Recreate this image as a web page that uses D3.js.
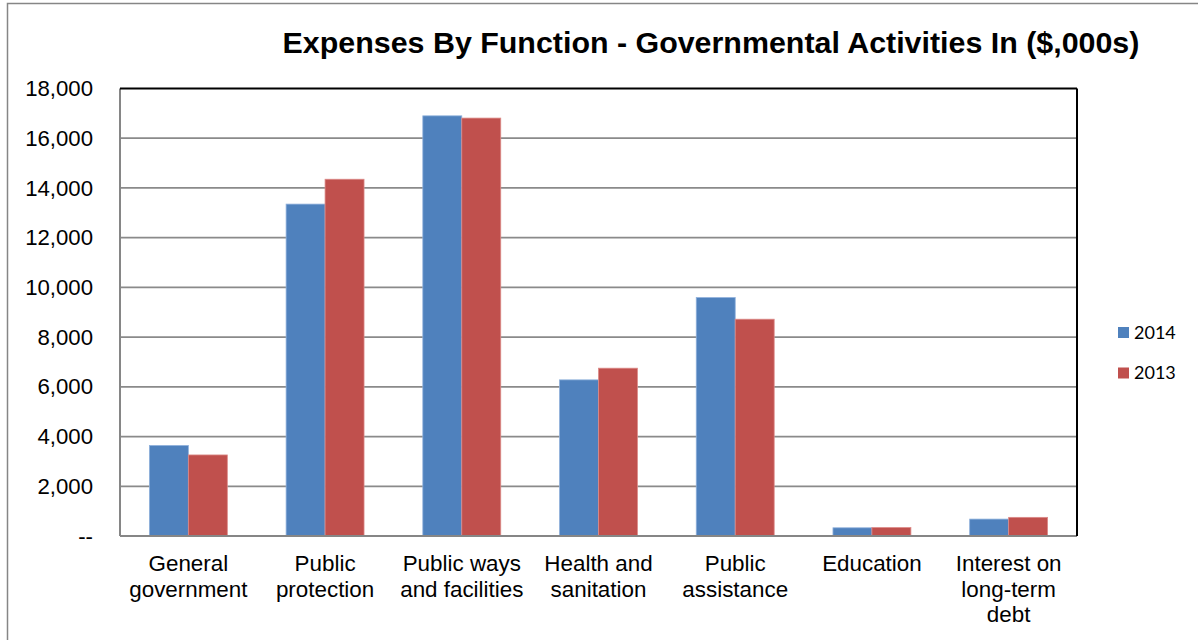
<!DOCTYPE html>
<html>
<head>
<meta charset="utf-8">
<script src="https://d3js.org/d3.v7.min.js"></script>
<style>
  body { margin: 0; background: #fff; }
  svg { display: block; }
</style>
</head>
<body>
<div id="svg_area"></div>
<script>
// values in $,000s
var categories = [
    ["General", "government"],
    ["Public", "protection"],
    ["Public ways", "and facilities"],
    ["Health and", "sanitation"],
    ["Public", "assistance"],
    ["Education"],
    ["Interest on", "long-term", "debt"]
];
var seriesNames = ["2014", "2013"];
var values2014 = [3640, 13350, 16900, 6280, 9590, 330, 680];
var values2013 = [3260, 14350, 16810, 6750, 8720, 340, 750];
var yTicks = [0, 2000, 4000, 6000, 8000, 10000, 12000, 14000, 16000, 18000];
var colors = ["#4f81bd", "#c0504d"];

var svg = d3.select("#svg_area").append("svg").attr("width", 1198).attr("height", 640),
    margin = {top: 88.5, right: 121, bottom: 104, left: 120},
    width = 1198 - margin.left - margin.right,
    height = 640 - margin.top - margin.bottom,
    g = svg.append("g").attr("transform", "translate(" + margin.left + "," + margin.top + ")");

// outer chart border
svg.append("rect")
    .attr("x", 7.5).attr("y", 3.5)
    .attr("width", 1300).attr("height", 800)
    .attr("fill", "none")
    .attr("stroke", "#868686")
    .attr("stroke-width", 1.5);

svg.append("text")
    .attr("x", 711)
    .attr("y", 53)
    .attr("text-anchor", "middle")
    .style("font-family", "'Liberation Sans', Arial, sans-serif")
    .style("font-weight", "bold")
    .style("font-size", "30.4px")
    .text("Expenses By Function - Governmental Activities In ($,000s)");

var x0 = d3.scaleBand()
    .domain(d3.range(categories.length))
    .range([0, width])
    .paddingInner(0.43)
    .paddingOuter(0.215);

var x1 = d3.scaleBand()
    .domain(seriesNames)
    .range([0, x0.bandwidth()]);

var y = d3.scaleLinear().domain([0, 18000]).range([height, 0]);

// gridlines
g.append("g")
    .selectAll("line")
    .data(yTicks.slice(1, -1))
    .enter().append("line")
    .attr("x1", 0).attr("x2", width)
    .attr("y1", function(d) { return y(d); })
    .attr("y2", function(d) { return y(d); })
    .attr("stroke", "#8a8a8a")
    .attr("stroke-width", 1.8);

// y axis labels
var yAxis = g.append("g")
    .call(d3.axisLeft(y)
        .tickValues(yTicks)
        .tickSize(0)
        .tickPadding(27)
        .tickFormat(function(d) { return d === 0 ? "--" : d3.format(",")(d); }));
yAxis.select(".domain").remove();
yAxis.selectAll("text")
    .attr("fill", "#000")
    .style("font-family", "'Liberation Sans', Arial, sans-serif")
    .style("font-size", "22.2px");

var data = categories.map(function(c, i) {
    return {i: i, vals: [values2014[i], values2013[i]]};
});

var groups = g.selectAll(".grp")
    .data(data)
    .enter().append("g")
    .attr("class", "grp")
    .attr("transform", function(d) { return "translate(" + x0(d.i) + ",0)"; });

groups.selectAll("rect")
    .data(function(d) { return d.vals.map(function(v, k) { return {key: seriesNames[k], v: v, k: k}; }); })
    .enter().append("rect")
    .attr("x", function(d) { return x1(d.key); })
    .attr("width", x1.bandwidth())
    .attr("y", function(d) { return y(d.v); })
    .attr("height", function(d) { return height - y(d.v); })
    .attr("fill", function(d) { return colors[d.k]; })
    .attr("stroke", function(d) { return d.k === 0 ? "#8fb0db" : "#dc8a88"; })
    .attr("stroke-width", 0.8);

// plot frame: gray left/bottom, black top/right
g.append("line").attr("x1", 0).attr("x2", 0).attr("y1", 0).attr("y2", height)
    .attr("stroke", "#868686").attr("stroke-width", 2);
g.append("line").attr("x1", 0).attr("x2", width).attr("y1", height).attr("y2", height)
    .attr("stroke", "#868686").attr("stroke-width", 2);
g.append("line").attr("x1", 0).attr("x2", width).attr("y1", 0).attr("y2", 0)
    .attr("stroke", "#000").attr("stroke-width", 2);
g.append("line").attr("x1", width).attr("x2", width).attr("y1", 0).attr("y2", height)
    .attr("stroke", "#000").attr("stroke-width", 2);

// category labels
var labels = g.selectAll(".cat")
    .data(categories)
    .enter().append("text")
    .attr("class", "cat")
    .attr("text-anchor", "middle")
    .attr("transform", function(d, i) { return "translate(" + (x0(i) + x0.bandwidth() / 2) + "," + (height + 35) + ")"; })
    .style("font-family", "'Liberation Sans', Arial, sans-serif")
    .style("font-size", "22.4px")
    .attr("fill", "#000");

labels.selectAll("tspan")
    .data(function(d) { return d; })
    .enter().append("tspan")
    .attr("x", 0)
    .attr("y", function(d, j) { return j * 25.5; })
    .text(function(d) { return d; });

// legend
var legend = svg.append("g")
    .attr("transform", "translate(1118,327)");

legend.selectAll("rect")
    .data(seriesNames)
    .enter().append("rect")
    .attr("x", 0)
    .attr("y", function(d, i) { return i * 40.5; })
    .attr("width", 11).attr("height", 11)
    .attr("fill", function(d, i) { return colors[i]; });

legend.selectAll("text")
    .data(seriesNames)
    .enter().append("text")
    .attr("x", 16)
    .attr("y", function(d, i) { return i * 40.5 + 11.5; })
    .style("font-family", "Lato, Carlito, Calibri, sans-serif")
    .style("font-size", "18px")
    .attr("fill", "#000")
    .text(function(d) { return d; });
</script>
</body>
</html>
